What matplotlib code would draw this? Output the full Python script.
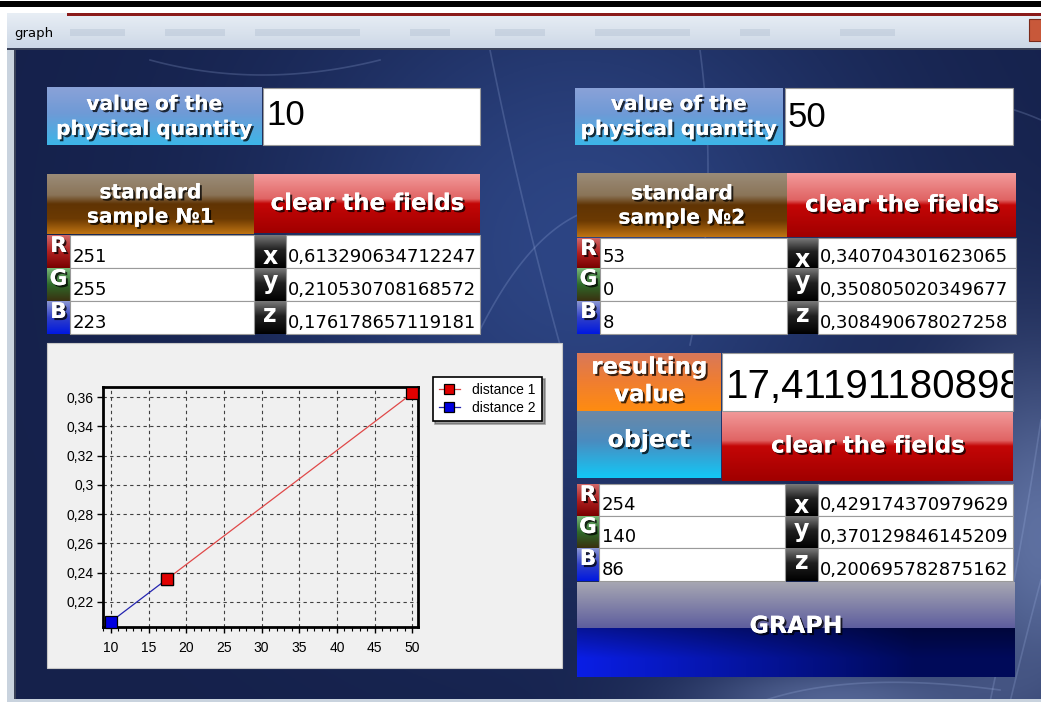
import numpy as np
import matplotlib.pyplot as plt
import matplotlib.patheffects as pe
from matplotlib.patches import Rectangle
from matplotlib.colors import LinearSegmentedColormap, to_rgb
from matplotlib.ticker import MultipleLocator, FuncFormatter
from matplotlib.transforms import Bbox, TransformedBbox

# chart data
dist1_x = [17.41, 50]
dist1_y = [0.2355, 0.3627]
dist2_x = [10, 17.41]
dist2_y = [0.2065, 0.2355]

# form fields
quantity_1 = '10'
quantity_2 = '50'
result_value = '17,411911808985'
sample1_rgb = ['251', '255', '223']
sample1_xyz = ['0,613290634712247', '0,210530708168572', '0,176178657119181']
sample2_rgb = ['53', '0', '8']
sample2_xyz = ['0,340704301623065', '0,350805020349677', '0,308490678027258']
object_rgb = ['254', '140', '86']
object_xyz = ['0,429174370979629', '0,370129846145209', '0,200695782875162']

W, H = 1041, 702
fig = plt.figure(figsize=(W / 100, H / 100), dpi=100)
fig.patch.set_facecolor('white')
bg = fig.add_axes([0, 0, 1, 1])
bg.axis('off')

shadow = [pe.withSimplePatchShadow(offset=(1.5, -1.5), shadow_rgbFace='black', alpha=0.75), pe.Normal()]


def vgrad(x0, y0, x1, y1, stops, z=2):
    cmap = LinearSegmentedColormap.from_list('g', stops)
    col = np.linspace(0, 1, 256)[:, None]
    bg.imshow(col, cmap=cmap, extent=(x0, x1, y1, y0), aspect='auto',
              interpolation='bilinear', zorder=z)


def label_box(x0, y0, x1, y1, stops, text, size, cy=None, ls=1.1):
    vgrad(x0, y0, x1, y1, stops)
    if cy is None:
        cy = (y0 + y1) / 2
    bg.text((x0 + x1) / 2, cy, text, ha='center', va='center', color='white',
            fontsize=size, fontweight='bold', family='DejaVu Sans',
            linespacing=ls, path_effects=shadow, zorder=5)


def entry(x0, y0, x1, y1, text, size, base, family='DejaVu Sans', pad=3):
    r = Rectangle((x0, y0), x1 - x0, y1 - y0, fc='white', ec='#9a9a9a', lw=0.8, zorder=3)
    bg.add_patch(r)
    t = bg.text(x0 + pad, base, text, ha='left', va='baseline', fontsize=size,
                family=family, color='black', zorder=4)
    t.set_clip_box(TransformedBbox(Bbox.from_extents(x0, y0, x1, y1), bg.transData))
    t.set_clip_on(True)


blue_lbl = [(0, '#8aa2d8'), (0.45, '#6f9ad6'), (1, '#3cb6e8')]
brown_lbl = [(0, '#9b8c78'), (0.35, '#8a7458'), (0.5, '#603404'), (0.75, '#6c3a02'), (1, '#c07412')]
red_btn = [(0, '#f29a9a'), (0.42, '#e06464'), (0.5, '#c40606'), (1, '#a00000')]
orange_lbl = [(0, '#d8785a'), (0.5, '#f07e30'), (1, '#ff8c10')]
cyan_lbl = [(0, '#6d88a6'), (0.45, '#4a8cc0'), (1, '#12c8f6')]
letter_cols = {
    'R': [(0, '#d06868'), (0.5, '#b02020'), (1, '#780000')],
    'G': [(0, '#78b878'), (0.5, '#2e6a2a'), (1, '#3a3010')],
    'B': [(0, '#8c98d4'), (0.5, '#3040c8'), (1, '#0018e0')],
}
black_lbl = [(0, '#7a7a7a'), (0.45, '#202020'), (1, '#000000')]
xyz_base = {'x': 29, 'y': 21, 'z': 21}

# window background
yy, xx = np.mgrid[0:1:300j, 0:1:500j]
glow = np.exp(-((xx - 0.55) ** 2 / 0.08 + (yy - 0.3) ** 2 / 0.2))
glow2 = np.exp(-((xx - 1.0) ** 2 / 0.01 + (yy - 0.75) ** 2 / 0.08))
glow3 = np.exp(-((xx - 0.8) ** 2 / 0.02 + (yy - 1.0) ** 2 / 0.004))
base = np.array(to_rgb('#15214b'))
light = np.array(to_rgb('#2d4584'))
img = base + (light - base) * glow[..., None]
img = img + (np.array(to_rgb('#8ea4d8')) - img) * (0.6 * glow2 + 0.5 * glow3)[..., None]
bg.imshow(np.clip(img, 0, 1), extent=(14, W, H, 50), aspect='auto', zorder=0)

# a few light streaks
t = np.linspace(0, 1, 100)
streaks = [
    ((490, 50), (520, 200), (560, 345)),
    ((480, 330), (530, 230), (590, 210)),
    ((860, 120), (950, 80), (1041, 120)),
    ((990, 702), (1020, 560), (1041, 420)),
    ((1010, 702), (1030, 620), (1041, 580)),
    ((760, 702), (850, 670), (1000, 690)),
    ((150, 60), (260, 90), (380, 60)),
    ((700, 50), (720, 200), (690, 345)),
]
for (ax0, ay0), (bx, by), (cx, cy) in streaks:
    px = (1 - t) ** 2 * ax0 + 2 * (1 - t) * t * bx + t ** 2 * cx
    py = (1 - t) ** 2 * ay0 + 2 * (1 - t) * t * by + t ** 2 * cy
    bg.plot(px, py, color='#a8bcec', alpha=0.22, lw=1.2, zorder=1)

# title bar and frame
bg.add_patch(Rectangle((0, 1), W, 6, fc='black', zorder=1))
vgrad(7, 13, W, 48, [(0, '#e8eef5'), (1, '#cdd8e6')], z=1)
bg.add_patch(Rectangle((67, 13), W - 67, 2.5, fc='#8a1a1a', zorder=2))
for mx0, mx1 in [(70, 125), (165, 225), (255, 360), (410, 450), (495, 545),
                 (595, 690), (740, 770), (840, 895)]:
    bg.add_patch(Rectangle((mx0, 29), mx1 - mx0, 7, fc='#aab8cc', alpha=0.35, zorder=2))
bg.text(14, 37, 'graph', fontsize=9.5, family='DejaVu Sans', color='black', zorder=3)
bg.add_patch(Rectangle((1029, 19), 14, 22, fc='#c8583a', ec='#7a2a1a', lw=0.8, zorder=3))
bg.add_patch(Rectangle((7, 48), 7, H - 48, fc='#c9d3de', zorder=2))
bg.add_patch(Rectangle((14, 48), 1.5, H - 48, fc='#3a4258', zorder=2))
bg.add_patch(Rectangle((7, 47.5), W, 2.5, fc='#3a4258', zorder=2))
bg.add_patch(Rectangle((7, 699), W, 3, fc='#c9d3de', zorder=2))

# left block
label_box(47, 87, 262, 145, blue_lbl, 'value of the\nphysical quantity', 14.5, cy=117, ls=1.4)
entry(263, 88, 480, 145, quantity_1, 25, 125, family='Liberation Sans')
label_box(47, 174, 254, 234, brown_lbl, 'standard\nsample №1', 14.5, cy=205, ls=1.35)
label_box(254, 174, 480, 233, red_btn, 'clear the fields', 16.5)

# right block
label_box(575, 88, 783, 145, blue_lbl, 'value of the\nphysical quantity', 14.5, cy=117, ls=1.4)
entry(785, 88, 1013, 145, quantity_2, 25, 127, family='Liberation Sans')
label_box(577, 173, 787, 237, brown_lbl, 'standard\nsample №2', 14.5, cy=206, ls=1.35)
label_box(787, 173, 1016, 237, red_btn, 'clear the fields', 16.5)

# result / object block
label_box(577, 353, 721, 411, orange_lbl, 'resulting\nvalue', 16.5, cy=381, ls=1.25)
entry(722, 353, 1013, 411, result_value, 29, 398, family='Liberation Sans', pad=4)
label_box(577, 411, 721, 478, cyan_lbl, 'object', 17, cy=440)
label_box(722, 411, 1013, 481, red_btn, 'clear the fields', 16.5, cy=446)


def rgb_xyz_rows(tops, bottoms, xs, rgb, xyz):
    lx0, lx1, ex1, zx1, zx2 = xs
    for i, (top, bot) in enumerate(zip(tops, bottoms)):
        letter = 'RGB'[i]
        vgrad(lx0, top, lx1, bot, letter_cols[letter])
        bg.text((lx0 + lx1) / 2, top + 17, letter, ha='center', va='baseline', color='white',
                fontsize=15.5, fontweight='bold', family='DejaVu Sans', zorder=5,
                path_effects=shadow)
        entry(lx1, top, ex1, bot, rgb[i], 13, bot - 6)
        c = 'xyz'[i]
        vgrad(ex1, top, zx1, bot, black_lbl)
        bg.text((ex1 + zx1) / 2, top + xyz_base[c], c, ha='center', va='baseline', color='white',
                fontsize=17, fontweight='bold', family='DejaVu Sans', zorder=5)
        entry(zx1, top, zx2, bot, xyz[i], 13, bot - 6, pad=2)


rgb_xyz_rows([235, 268, 301], [268, 301, 334], (47, 70, 254, 286, 480), sample1_rgb, sample1_xyz)
rgb_xyz_rows([238, 268, 301], [268, 301, 334], (577, 600, 787, 818, 1016), sample2_rgb, sample2_xyz)
rgb_xyz_rows([484, 516, 548], [516, 548, 581], (577, 599, 785, 818, 1013), object_rgb, object_xyz)

# GRAPH button
gy, gx = np.mgrid[0:1:95j, 0:1:438j]
top_c0, top_c1 = np.array(to_rgb('#a6a6b2')), np.array(to_rgb('#5e5e9e'))
low_l, low_r = np.array(to_rgb('#0a1ee6')), np.array(to_rgb('#000a5a'))
split = 0.48
upper = top_c0 + (top_c1 - top_c0) * (gy / split)[..., None]
hx = np.clip(gx * 1.3, 0, 1)
lower = low_l + (low_r - low_l) * hx[..., None]
lower = lower * (0.65 + 0.35 * np.clip((gy - split) / (1 - split) * 1.6, 0, 1))[..., None]
gimg = np.where((gy < split)[..., None], upper, lower)
bg.imshow(np.clip(gimg, 0, 1), extent=(577, 1015, 677, 582), aspect='auto', zorder=2)
bg.text(796, 626, 'GRAPH', ha='center', va='center', color='white', fontsize=17,
        fontweight='bold', family='DejaVu Sans', path_effects=shadow, zorder=5)

# chart panel
bg.add_patch(Rectangle((47, 343), 515, 325, fc='#f0f0f0', ec='#c8c8c8', lw=0.8, zorder=2))

bg.set_xlim(0, W)
bg.set_ylim(H, 0)

ax = fig.add_axes([103.3 / W, 1 - 627.3 / H, 315 / W, 240 / H])
ax.set_facecolor('#f0f0f0')
l2, = ax.plot(dist2_x, dist2_y, color='#2424b0', lw=0.9, marker='s', ms=8,
              mfc='#0000e0', mec='black', mew=0.9, label='distance 2', zorder=3, clip_on=False)
l1, = ax.plot(dist1_x, dist1_y, color='#e04848', lw=0.9, marker='s', ms=8,
              mfc='#e00000', mec='black', mew=0.9, label='distance 1', zorder=4, clip_on=False)
ax.set_xlim(9.0, 50.8)
ax.set_ylim(0.2027, 0.3668)
ax.xaxis.set_major_locator(MultipleLocator(5))
ax.xaxis.set_minor_locator(MultipleLocator(1))
ax.yaxis.set_major_locator(MultipleLocator(0.02))
fmt = FuncFormatter(lambda v, p: ('%g' % round(v, 4)).replace('.', ','))
ax.xaxis.set_major_formatter(fmt)
ax.yaxis.set_major_formatter(fmt)
ax.tick_params(which='major', direction='out', length=4, width=1, labelsize=10, pad=3)
ax.tick_params(axis='x', which='major', pad=6)
ax.tick_params(which='minor', direction='out', length=3, width=0.8)
for lab in ax.get_xticklabels() + ax.get_yticklabels():
    lab.set_family('Liberation Sans')
ax.grid(True, which='major', color='#404040', ls=(0, (3, 3)), lw=0.8)
for s in ax.spines.values():
    s.set_linewidth(2)
    s.set_color('black')

leg = ax.legend(handles=[l1, l2], loc='upper left', bbox_to_anchor=(432.7 / W, 1 - 376.7 / H),
                bbox_transform=fig.transFigure, frameon=True, fancybox=False, shadow=True,
                edgecolor='black', framealpha=1, borderaxespad=0,
                prop={'family': 'Liberation Sans', 'size': 10}, handlelength=1.5,
                markerscale=0.85, borderpad=0.45, labelspacing=0.3, handletextpad=0.9)
leg.get_frame().set_linewidth(1.2)

fig.savefig('out.png', dpi=100)
